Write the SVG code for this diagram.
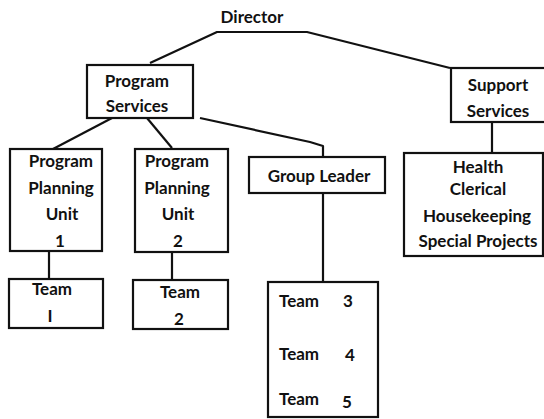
<svg xmlns="http://www.w3.org/2000/svg" width="544" height="419" viewBox="0 0 544 419">
<style>
rect.box{fill:none;stroke:#111;stroke-width:2.2}
.conn path{fill:none;stroke:#111;stroke-width:2.2;stroke-linejoin:round}
text{font-family:Lato,"DejaVu Sans",sans-serif;font-weight:bold;font-size:17px;fill:#111}
.c{text-anchor:middle}
</style>
<rect width="544" height="419" fill="#fff"/>
<g class="conn">
<path d="M150 63 L217 32 L307 32 L450 68"/>
<path d="M112 118 L53 149"/>
<path d="M147 118 L172 148"/>
<path d="M200 118 L310 142 L323 146 L323 157"/>
<path d="M492 122 L492 153"/>
<path d="M49 251 L49 279"/>
<path d="M172 252 L172 280"/>
<path d="M323 193 L323 282"/>
</g>
<g id="director"><text class="c" x="252" y="23">Director</text></g>
<g id="program-services"><rect class="box" x="87" y="65" width="106" height="53"/><text class="c" x="137" y="87">Program</text><text class="c" x="137" y="112">Services</text></g>
<g id="support-services"><rect class="box" x="451" y="68" width="100" height="54"/><text class="c" x="498" y="91">Support</text><text class="c" x="498" y="117">Services</text></g>
<g id="ppu1"><rect class="box" x="10" y="149" width="92" height="102"/><text class="c" x="61" y="167">Program</text><text class="c" x="61" y="194">Planning</text><text class="c" x="62" y="220">Unit</text><text class="c" x="60" y="247">1</text></g>
<g id="ppu2"><rect class="box" x="135" y="149" width="93" height="103"/><text class="c" x="177" y="167">Program</text><text class="c" x="177" y="194">Planning</text><text class="c" x="178" y="220">Unit</text><text class="c" x="178" y="247">2</text></g>
<g id="group-leader"><rect class="box" x="249" y="157" width="136" height="36"/><text class="c" x="319" y="182">Group Leader</text></g>
<g id="support-units"><rect class="box" x="404" y="153" width="139" height="103"/><text class="c" x="478" y="173">Health</text><text class="c" x="478" y="195">Clerical</text><text class="c" x="477" y="222">Housekeeping</text><text class="c" x="478" y="247">Special Projects</text></g>
<g id="team1"><rect class="box" x="9" y="279" width="94" height="49"/><text class="c" x="52" y="295">Team</text><text class="c" x="50" y="322">I</text></g>
<g id="team2"><rect class="box" x="133" y="280" width="95" height="49"/><text class="c" x="180" y="298">Team</text><text class="c" x="179" y="325">2</text></g>
<g id="teams345"><rect class="box" x="268" y="282" width="110" height="135"/><text x="279" y="307">Team</text><text class="c" x="348" y="307">3</text><text x="279" y="360">Team</text><text class="c" x="350" y="361">4</text><text x="279" y="405">Team</text><text class="c" x="347" y="408">5</text></g>
</svg>
